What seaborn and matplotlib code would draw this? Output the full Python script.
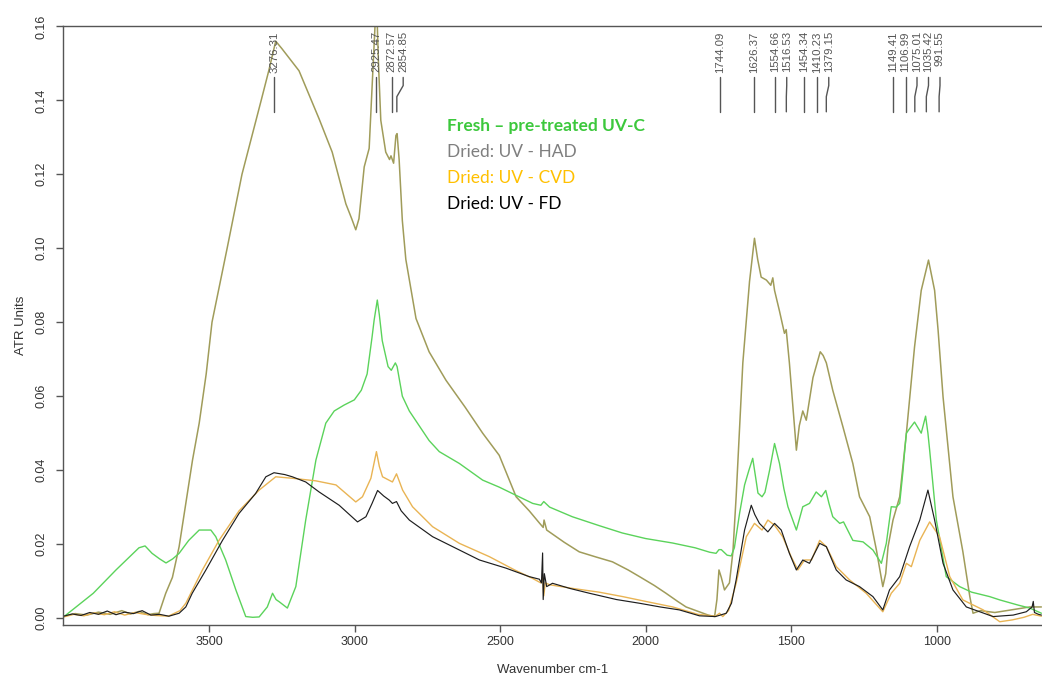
import numpy as np
import pandas as pd
import matplotlib
matplotlib.use("Agg")
import matplotlib.pyplot as plt
import seaborn as sns

# ---- spectra: wavenumber (cm-1) and absorbance (ATR units) ----
had_wn = [4000, 3960, 3920, 3880, 3840, 3800, 3770, 3740, 3710, 3690, 3672, 3649, 3626, 3603,
          3580, 3557, 3534, 3510, 3490, 3438, 3387, 3321, 3295, 3271, 3250, 3191, 3122, 3077,
          3030, 3010, 2996, 2985, 2967, 2950, 2940, 2930, 2925, 2918, 2910, 2893, 2880, 2875,
          2866, 2858, 2854, 2847, 2836, 2824, 2789, 2744, 2686, 2620, 2560, 2503, 2445, 2400,
          2365, 2352, 2349, 2340, 2331, 2280, 2228, 2170, 2114, 2060, 2021, 1970, 1930, 1890,
          1861, 1820, 1785, 1763, 1755, 1748, 1740, 1729, 1712, 1700, 1689, 1666, 1643, 1626,
          1615, 1603, 1585, 1570, 1563, 1557, 1540, 1523, 1517, 1506, 1482, 1472, 1460, 1448,
          1425, 1400, 1390, 1379, 1357, 1322, 1288, 1265, 1230, 1207, 1185, 1175, 1167, 1150,
          1127, 1104, 1093, 1076, 1053, 1028, 1007, 995, 978, 944, 910, 886, 875, 850, 800,
          760, 720, 680, 640]
had_abs = [0.0005, 0.0012, 0.0008, 0.0016, 0.0010, 0.0020, 0.0011, 0.0018, 0.0009, 0.0012,
           0.0013, 0.0067, 0.0110, 0.0193, 0.0310, 0.0427, 0.0527, 0.0660, 0.0800, 0.1000,
           0.1200, 0.1400, 0.1480, 0.1560, 0.1540, 0.1480, 0.1350, 0.1260, 0.1120, 0.1080,
           0.1050, 0.1080, 0.1220, 0.1270, 0.1435, 0.1600, 0.1680, 0.1500, 0.1346, 0.1260,
           0.1240, 0.1250, 0.1230, 0.1305, 0.1310, 0.1240, 0.1075, 0.0970, 0.0810, 0.0720,
           0.0643, 0.0570, 0.0500, 0.0440, 0.0328, 0.0290, 0.0257, 0.0245, 0.0265, 0.0238,
           0.0233, 0.0205, 0.0179, 0.0165, 0.0152, 0.0130, 0.0112, 0.0088, 0.0067, 0.0045,
           0.0030, 0.0018, 0.0008, 0.0004, 0.0050, 0.0130, 0.0110, 0.0076, 0.0095, 0.0180,
           0.0328, 0.0690, 0.0910, 0.1027, 0.0970, 0.0922, 0.0914, 0.0900, 0.0920, 0.0886,
           0.0830, 0.0770, 0.0780, 0.0690, 0.0454, 0.0520, 0.0560, 0.0535, 0.0650, 0.0720,
           0.0710, 0.0690, 0.0616, 0.0517, 0.0418, 0.0328, 0.0274, 0.0184, 0.0085, 0.0120,
           0.0193, 0.0265, 0.0328, 0.0500, 0.0590, 0.0733, 0.0886, 0.0968, 0.0886, 0.0778,
           0.0598, 0.0328, 0.0180, 0.0058, 0.0013, 0.0020, 0.0015, 0.0020, 0.0025, 0.0030,
           0.0030]

fresh_wn = [4000, 3898, 3820, 3741, 3720, 3696, 3670, 3648, 3625, 3603, 3570, 3534, 3494,
            3477, 3443, 3408, 3374, 3350, 3328, 3300, 3282, 3270, 3259, 3231, 3202, 3168,
            3133, 3099, 3070, 3036, 3001, 2977, 2957, 2940, 2933, 2922, 2915, 2905, 2885,
            2874, 2860, 2854, 2836, 2812, 2778, 2744, 2709, 2640, 2560, 2503, 2388, 2360,
            2350, 2330, 2252, 2160, 2080, 2000, 1908, 1830, 1780, 1758, 1748, 1740, 1720,
            1706, 1695, 1677, 1660, 1645, 1632, 1620, 1614, 1600, 1590, 1574, 1557, 1540,
            1525, 1511, 1482, 1460, 1437, 1414, 1396, 1381, 1370, 1357, 1333, 1320, 1288,
            1253, 1219, 1190, 1173, 1156, 1139, 1127, 1116, 1110, 1104, 1095, 1076, 1053,
            1038, 1030, 1024, 1001, 967, 921, 880, 818, 783, 720, 680, 640]
fresh_abs = [0.0003, 0.0067, 0.0130, 0.0190, 0.0195, 0.0175, 0.0160, 0.0149, 0.0160, 0.0175,
             0.0210, 0.0238, 0.0238, 0.0220, 0.0157, 0.0076, 0.0004, 0.0002, 0.0003, 0.0030,
             0.0067, 0.0050, 0.0044, 0.0027, 0.0085, 0.0265, 0.0427, 0.0527, 0.0560, 0.0576,
             0.0590, 0.0616, 0.0660, 0.0760, 0.0805, 0.0860, 0.0820, 0.0750, 0.0680, 0.0670,
             0.0690, 0.0680, 0.0600, 0.0560, 0.0520, 0.0480, 0.0450, 0.0418, 0.0373, 0.0354,
             0.0310, 0.0305, 0.0315, 0.0300, 0.0274, 0.0250, 0.0230, 0.0215, 0.0203, 0.0190,
             0.0178, 0.0175, 0.0185, 0.0185, 0.0170, 0.0168, 0.0190, 0.0284, 0.0360, 0.0400,
             0.0432, 0.0370, 0.0338, 0.0328, 0.0340, 0.0400, 0.0472, 0.0418, 0.0350, 0.0301,
             0.0238, 0.0301, 0.0310, 0.0341, 0.0328, 0.0345, 0.0310, 0.0274, 0.0256, 0.0260,
             0.0210, 0.0206, 0.0184, 0.0148, 0.0202, 0.0301, 0.0300, 0.0310, 0.0395, 0.0450,
             0.0500, 0.0510, 0.0530, 0.0500, 0.0546, 0.0500, 0.0454, 0.0265, 0.0112, 0.0085,
             0.0070, 0.0058, 0.0049, 0.0035, 0.0027, 0.0013]

cvd_wn = [4000, 3965, 3930, 3895, 3860, 3825, 3790, 3755, 3720, 3685, 3640, 3600, 3580,
          3523, 3466, 3397, 3328, 3271, 3214, 3133, 3064, 2996, 2973, 2944, 2925, 2915, 2904,
          2870, 2856, 2835, 2801, 2732, 2640, 2537, 2450, 2388, 2360, 2354, 2350, 2345, 2330,
          2250, 2160, 2079, 2000, 1907, 1820, 1760, 1746, 1735, 1715, 1689, 1654, 1626, 1600,
          1580, 1557, 1529, 1500, 1477, 1454, 1430, 1402, 1379, 1345, 1299, 1242, 1185, 1156,
          1127, 1104, 1087, 1058, 1024, 990, 955, 910, 840, 783, 740, 700, 670, 640]
cvd_abs = [0.0003, 0.0010, 0.0006, 0.0014, 0.0009, 0.0017, 0.0008, 0.0015, 0.0010, 0.0007,
           0.0005, 0.0020, 0.0040, 0.0130, 0.0210, 0.0290, 0.0346, 0.0382, 0.0378, 0.0371,
           0.0360, 0.0314, 0.0328, 0.0378, 0.0450, 0.0410, 0.0382, 0.0368, 0.0390, 0.0346,
           0.0301, 0.0247, 0.0202, 0.0166, 0.0130, 0.0107, 0.0095, 0.0110, 0.0060, 0.0095,
           0.0090, 0.0080, 0.0070, 0.0058, 0.0045, 0.0030, 0.0010, 0.0005, 0.0013, 0.0004,
           0.0020, 0.0094, 0.0220, 0.0256, 0.0238, 0.0265, 0.0251, 0.0220, 0.0166, 0.0130,
           0.0157, 0.0157, 0.0210, 0.0193, 0.0139, 0.0103, 0.0067, 0.0017, 0.0067, 0.0094,
           0.0148, 0.0139, 0.0210, 0.0260, 0.0220, 0.0112, 0.0049, 0.0022, -0.0010, -0.0005,
           0.0002, 0.0010, 0.0005]

fd_wn = [4000, 3970, 3940, 3910, 3880, 3850, 3820, 3790, 3760, 3730, 3700, 3670, 3638, 3603,
         3580, 3558, 3511, 3454, 3397, 3340, 3305, 3277, 3240, 3214, 3168, 3122, 3053, 2990,
         2961, 2940, 2921, 2900, 2881, 2870, 2856, 2840, 2812, 2732, 2640, 2571, 2480, 2400,
         2365, 2358, 2354, 2352, 2348, 2340, 2320, 2260, 2193, 2100, 2021, 1950, 1884, 1815,
         1760, 1723, 1705, 1689, 1660, 1637, 1625, 1609, 1580, 1557, 1534, 1506, 1482, 1460,
         1437, 1402, 1379, 1345, 1311, 1265, 1219, 1185, 1162, 1127, 1093, 1058, 1030, 1007,
         978, 944, 898, 806, 737, 692, 672, 668, 664, 650, 640]
fd_abs = [0.0005, 0.0011, 0.0007, 0.0015, 0.0010, 0.0019, 0.0009, 0.0016, 0.0012, 0.0020,
          0.0008, 0.0010, 0.0005, 0.0013, 0.0030, 0.0067, 0.0130, 0.0210, 0.0283, 0.0337,
          0.0382, 0.0393, 0.0388, 0.0382, 0.0368, 0.0341, 0.0305, 0.0260, 0.0274, 0.0310,
          0.0345, 0.0330, 0.0319, 0.0310, 0.0315, 0.0290, 0.0265, 0.0220, 0.0184, 0.0157,
          0.0135, 0.0112, 0.0105, 0.0095, 0.0176, 0.0050, 0.0120, 0.0085, 0.0094, 0.0080,
          0.0067, 0.0050, 0.0040, 0.0030, 0.0022, 0.0006, 0.0004, 0.0013, 0.0040, 0.0103,
          0.0238, 0.0305, 0.0280, 0.0256, 0.0233, 0.0256, 0.0238, 0.0175, 0.0130, 0.0157,
          0.0148, 0.0202, 0.0193, 0.0130, 0.0103, 0.0085, 0.0058, 0.0022, 0.0076, 0.0112,
          0.0193, 0.0265, 0.0346, 0.0265, 0.0148, 0.0076, 0.0030, 0.0004, 0.0008, 0.0017,
          0.0030, 0.0045, 0.0015, 0.0010, 0.0008]

# ---- labelled band positions (cm-1) ----
peak_labels = ["3276.31", "2925.47", "2872.57", "2854.85", "1744.09", "1626.37", "1554.66",
               "1516.53", "1454.34", "1410.23", "1379.15", "1149.41", "1106.99", "1075.01",
               "1035.42", "991.55"]

# ---- legend entries ----
legend_text = ["Fresh \u2013 pre-treated UV-C", "Dried: UV - HAD", "Dried: UV - CVD", "Dried: UV - FD"]
legend_colors = ["#3CC83C", "#7F7F7F", "#FFC000", "#000000"]

series = [
    ("HAD", had_wn, had_abs, "#A09C5A", 1.1),
    ("Fresh", fresh_wn, fresh_abs, "#5BD35B", 1.0),
    ("CVD", cvd_wn, cvd_abs, "#E9B454", 1.0),
    ("FD", fd_wn, fd_abs, "#1E1E1E", 0.85),
]

frames = []
for name, wn, ab, _, _ in series:
    frames.append(pd.DataFrame({"wavenumber": wn, "absorbance": ab, "sample": name}))
df = pd.concat(frames, ignore_index=True)

sns.set_style("white")
plt.rcParams["font.family"] = ["Liberation Sans", "DejaVu Sans"]

W, H = 1042, 680
fig = plt.figure(figsize=(W / 100, H / 100), dpi=100)
ax = fig.add_axes([63 / W, (H - 624.7) / H, (W - 63) / W, (624.7 - 26.4) / H])

for name, _, _, color, lw in series:
    sns.lineplot(data=df[df["sample"] == name], x="wavenumber", y="absorbance",
                 color=color, linewidth=lw, estimator=None, ax=ax, legend=False)

ax.set_xlim(4002, 638)
ax.set_ylim(-0.0018, 0.16)

axis_gray = "#555555"
for side in ["left", "bottom", "top"]:
    ax.spines[side].set_visible(True)
    ax.spines[side].set_color(axis_gray)
    ax.spines[side].set_linewidth(1.0)
ax.spines["right"].set_visible(False)

ax.set_xticks([3500, 3000, 2500, 2000, 1500, 1000])
ax.set_xticklabels(["3500", "3000", "2500", "2000", "1500", "1000"])
yt = np.arange(0, 0.161, 0.02)
ax.set_yticks(yt)
ax.set_yticklabels([f"{v:.2f}" for v in yt], rotation=90, va="center")
ax.tick_params(axis="both", direction="out", length=5, width=1, color=axis_gray,
               labelsize=9, labelcolor="#333333")
ax.tick_params(axis="x", pad=3, bottom=True)
ax.tick_params(axis="y", pad=6, left=True)

ax.set_xlabel("Wavenumber cm-1", fontsize=9.5, color="#333333", labelpad=12)
ax.set_ylabel("ATR Units", fontsize=9.5, color="#333333", labelpad=6)

# band annotations: rotated labels with leader lines, spread apart where crowded
peak_vals = [float(s) for s in peak_labels]
min_gap = 39.5
label_pos = []
for v in peak_vals:
    pos = v
    if label_pos and label_pos[-1] - pos < min_gap:
        pos = label_pos[-1] - min_gap
    label_pos.append(pos)

text_top, line_top, bend_a, bend_b, line_bot = 0.1587, 0.1462, 0.1440, 0.1410, 0.1369
for s, v, p in zip(peak_labels, peak_vals, label_pos):
    ax.text(p, text_top, s, rotation=90, ha="center", va="top", fontsize=8.2,
            color="#555555")
    if abs(p - v) > 1:
        ax.plot([p, p, v, v], [line_top, bend_a, bend_b, line_bot], color="#555555", lw=1.0)
    else:
        ax.plot([v, v], [line_top, line_bot], color="#555555", lw=1.0)

# legend drawn as coloured text lines
for i, (t, c) in enumerate(zip(legend_text, legend_colors)):
    fig.text(447 / W, 1 - (126 + 26 * i) / H, t, color=c, fontsize=12.5,
             fontweight="bold" if i == 0 else "normal", family=["Lato", "DejaVu Sans"],
             ha="left", va="center")

fig.savefig("out.png", dpi=100)
